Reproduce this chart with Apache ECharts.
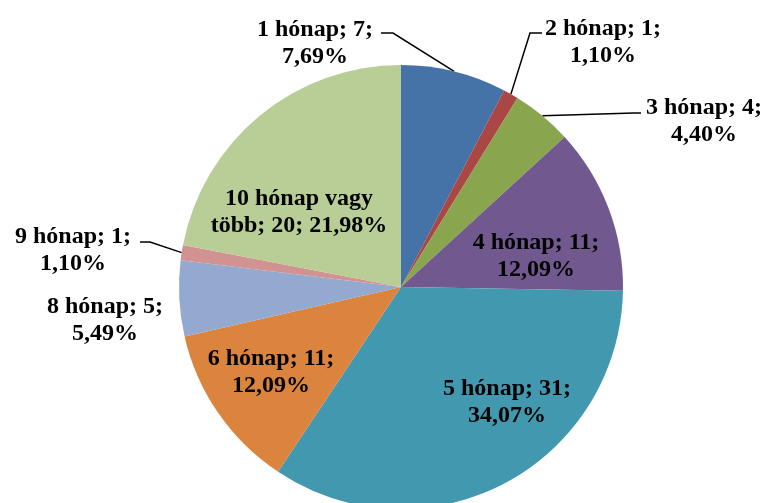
<!DOCTYPE html>
<html>
<head>
<meta charset="utf-8">
<script src="https://cdn.jsdelivr.net/npm/echarts@6/dist/echarts.min.js"></script>
<style>
  html, body { margin: 0; padding: 0; background: #fff; }
  #chart { width: 770px; height: 503px; }
</style>
</head>
<body>
<div id="chart"></div>
<script>
// adatok
var categories = ["1 hónap", "2 hónap", "3 hónap", "4 hónap", "5 hónap", "6 hónap", "8 hónap", "9 hónap", "10 hónap vagy több"];
var values = [7, 1, 4, 11, 31, 11, 5, 1, 20];
var colors = ["#4572A7", "#AA4643", "#89A54E", "#71588F", "#4198AF", "#DB843D", "#93A9CF", "#D19392", "#B9CD96"];
// címkék: belül vagy kívül
var insideLabel = [false, false, false, true, true, true, false, false, true];
var showLine = [true, true, true, false, false, false, false, true, false];

// címke középpontok (Excel elrendezés szerint)
var labelPos = [[315, 43], [603, 42], [704, 121], [536, 256], [507, 402], [271, 372], [105, 320], [73, 250], [299, 212]];
// vezetővonal töréspontjai
var lineBend = {
  0: [[393, 33], [381, 33]],
  1: [[530, 33], [542, 33]],
  2: [[634, 113], [641, 113]],
  7: [[150, 242], [140, 242]]
};

var total = values.reduce(function (a, b) { return a + b; }, 0);

function fmt(name, v) {
  var pct = (v / total * 100).toFixed(2).replace(".", ",") + "%";
  if (name === "10 hónap vagy több") {
    return "10 hónap vagy\ntöbb; " + v + "; " + pct;
  }
  return name + "; " + v + ";\n" + pct;
}

var chart = echarts.init(document.getElementById("chart"));
chart.setOption({
  animation: false,
  series: [
    {
      type: "pie",
      center: [401, 287],
      radius: 222,
      startAngle: 90,
      clockwise: true,
      avoidLabelOverlap: false,
      label: {
        fontFamily: "Liberation Serif",
        fontWeight: "bold",
        fontSize: 24,
        lineHeight: 27,
        color: "#000",
        align: "center"
      },
      labelLine: {
        lineStyle: { color: "#000", width: 1.5 }
      },
      labelLayout: function (params) {
        var i = params.dataIndex;
        var p = labelPos[i];
        var res = { x: p[0], y: p[1], align: "center", verticalAlign: "middle" };
        if (lineBend[i] && params.labelLinePoints) {
          res.labelLinePoints = [params.labelLinePoints[0], lineBend[i][0], lineBend[i][1]];
        }
        return res;
      },
      data: categories.map(function (c, i) {
        return {
          name: c,
          value: values[i],
          itemStyle: { color: colors[i] },
          label: {
            position: insideLabel[i] ? "inside" : "outside",
            formatter: fmt(c, values[i])
          },
          labelLine: { show: showLine[i] }
        };
      })
    }
  ]
});
</script>
</body>
</html>
